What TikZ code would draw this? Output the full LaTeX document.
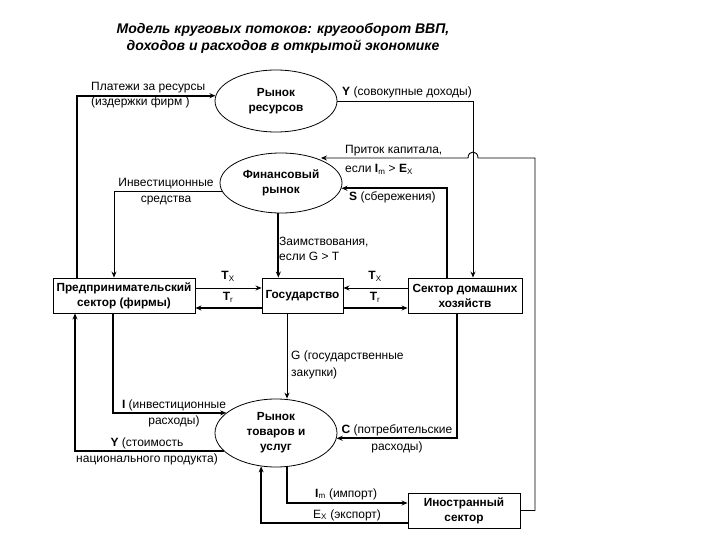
\documentclass[tikz,border=0pt]{standalone}
\usepackage{fontspec}
\setmainfont{Liberation Sans}
\usetikzlibrary{arrows.meta,calc,shapes.geometric}
\begin{document}
\begin{tikzpicture}[x=1pt,y=-1pt,
  thinln/.style={line width=0.9pt},
  thickln/.style={line width=1.8pt},
  arr/.style={-{Stealth[length=6pt,width=5pt]}},
  ell/.style={draw, line width=0.8pt, ellipse, inner sep=0pt, align=center,
    font=\bfseries\fontsize{11.8}{15}\selectfont},
  box/.style={draw, line width=0.9pt, rectangle, inner sep=0pt, align=center,
    font=\bfseries\fontsize{11.8}{15}\selectfont},
  lbl/.style={inner sep=0pt, font=\fontsize{12}{16.5}\selectfont}
]
\useasboundingbox[fill=white] (0,0) rectangle (720,540);

% title
\node[font=\bfseries\itshape\fontsize{14}{17}\selectfont, align=center] (title) at (283,38.5)
  {Модель круговых потоков: кругооборот ВВП,\\доходов и расходов в открытой экономике};

% main nodes
\node[ell, minimum width=122, minimum height=62] (res) at (276,101) {Рынок\\ресурсов};
\node[ell, minimum width=122, minimum height=60] (fin) at (281,183) {Финансовый\\рынок};
\node[ell, minimum width=122, minimum height=68] (goods) at (276,433) {Рынок\\товаров и\\услуг};
\node[box, minimum width=142, minimum height=35] (firm) at (124,295.5) {Предпринимательский\\сектор (фирмы)};
\node[box, minimum width=81, minimum height=35] (gov) at (302.5,295.5) {Государство};
\node[box, minimum width=114, minimum height=35] (hh) at (465,295.5) {Сектор домашних\\хозяйств};
\node[box, minimum width=112, minimum height=35] (for) at (464,510.5) {Иностранный\\сектор};

% connectors
\draw[thickln,arr] (firm.north -| 77,0) |- (res.175);
\draw[thinln,arr] (res.east) -| (hh.north -| 473,0);
\draw[thinln,arr] (for.east) -| (535,158) -- (478,158) .. controls (478,150) and (468,150) .. (468,158) -- (fin.30 |- 0,158);
\draw[thickln,arr] (hh.north -| 447,0) |- (fin.-5);
\draw[thinln,arr] (fin.188) -| (firm.north -| 114,0);
\draw[thickln,arr] (fin.265) -- (fin.265 |- gov.north);
\draw[thinln,arr] ($(firm.east)+(0,-7.5)$) -- ($(gov.west)+(0,-7.5)$);
\draw[thickln,arr] ($(gov.west)+(0,12.5)$) -- ($(firm.east)+(0,12.5)$);
\draw[thinln,arr] ($(hh.west)+(0,-7.5)$) -- ($(gov.east)+(0,-7.5)$);
\draw[thickln,arr] ($(gov.east)+(0,12.5)$) -- ($(hh.west)+(0,12.5)$);
\draw[thinln,arr] (gov.south -| 287,0) -- (goods.north -| 287,0);
\draw[thickln,arr] (firm.south -| 113,0) |- (goods.158);
\draw[thickln,arr] (goods.199) -| (firm.south -| 75,0);
\draw[thickln,arr] (hh.south -| 457,0) |- (goods.-5);
\draw[thickln,arr] (goods.-72) |- ($(for.west)+(0,-7.5)$);
\draw[thickln,arr] ($(for.west)+(0,12.5)$) -| (goods.246);

% labels
\node[lbl, anchor=west, align=left, font=\fontsize{12}{15}\selectfont] (lpay) at (91,95.5) {Платежи за ресурсы\\(издержки фирм )};
\node[lbl, anchor=west] (ly) at (342,92) {\textbf{Y} (совокупные доходы)};
\node[lbl, anchor=west] (lcap1) at (345,151) {Приток капитала,};
\node[lbl, anchor=west] (lcap2) at (345,169) {если \textbf{I}\textsubscript{m} > \textbf{E}\textsubscript{X}};
\node[lbl, anchor=west] (ls) at (349,197) {\textbf{S} (сбережения)};
\node[lbl, align=center] (linv) at (166,191.5) {Инвестиционные\\средства};
\node[lbl, anchor=west, align=left, font=\fontsize{12}{15}\selectfont] (lbor) at (279,248.5) {Заимствования,\\если G > T};
\node[lbl] (ltx1) at (228,276) {\textbf{T}\textsubscript{X}};
\node[lbl] (ltr1) at (228,297) {\textbf{T}\textsubscript{r}};
\node[lbl] (ltx2) at (375,276) {\textbf{T}\textsubscript{X}};
\node[lbl] (ltr2) at (375,297) {\textbf{T}\textsubscript{r}};
\node[lbl, anchor=west, align=left] (lg) at (291,365) {G (государственные\\закупки)};
\node[lbl, align=center] (li) at (174,413.5) {\textbf{I} (инвестиционные\\расходы)};
\node[lbl, align=center] (lyn) at (147,451.5) {\textbf{Y} (стоимость\\национального продукта)};
\node[lbl, align=center] (lc) at (397,439) {\textbf{C} (потребительские\\расходы)};
\node[lbl, anchor=west] (lim) at (315,494) {\textbf{I}\textsubscript{m} (импорт)};
\node[lbl, anchor=west] (lex) at (313,515) {E\textsubscript{X} (экспорт)};
\end{tikzpicture}
\end{document}
